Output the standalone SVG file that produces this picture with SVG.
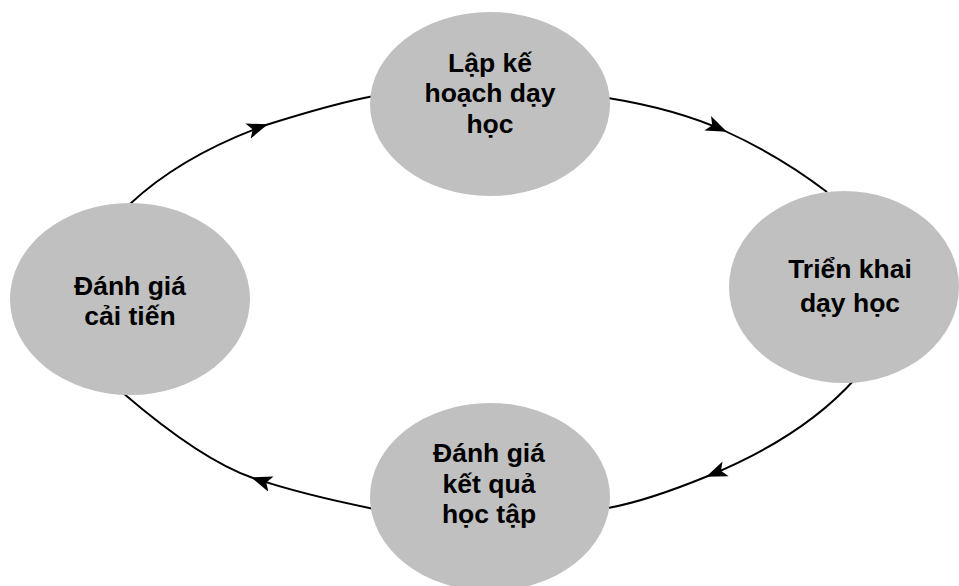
<svg xmlns="http://www.w3.org/2000/svg" width="959" height="586" viewBox="0 0 959 586">
<style>
.conn{fill:none;stroke:#000;stroke-width:1.9;marker-mid:url(#arr)}
.node{fill:#c0c0c0;stroke:none}
.lbl{font-family:"Liberation Sans",Arial,sans-serif;font-weight:bold;font-size:26.5px;fill:#000;text-anchor:middle}
</style>
<defs>
<marker id="arr" markerUnits="userSpaceOnUse" viewBox="0 0 24 18" markerWidth="24" markerHeight="18" refX="19" refY="9" orient="auto">
<path d="M0,1 L21,9 L0,17 L5,9 z" fill="#000"/>
</marker>
</defs>
<rect width="959" height="586" fill="#fff"/>
<g id="connectors">
<path class="conn" d="M130,204 Q181,156 266,125 Q336,103 374,96"/>
<path class="conn" d="M608,98 Q676,109 725,131 Q780,156 827,192"/>
<path class="conn" d="M855,379 Q803,437 708,476 Q647,501 608,508"/>
<path class="conn" d="M374,509 Q300,494 253,478 Q201,460 123,393"/>
</g>
<g id="node-plan">
<ellipse class="node" cx="490" cy="104" rx="120" ry="92"/>
<text class="lbl" x="490" y="72">Lập kế</text>
<text class="lbl" x="490" y="102">hoạch dạy</text>
<text class="lbl" x="490" y="133">học</text>
</g>
<g id="node-implement">
<ellipse class="node" cx="844" cy="287" rx="115" ry="96"/>
<text class="lbl" x="850" y="278">Triển khai</text>
<text class="lbl" x="850" y="312">dạy học</text>
</g>
<g id="node-assess">
<ellipse class="node" cx="490" cy="497" rx="120" ry="94"/>
<text class="lbl" x="489" y="462">Đánh giá</text>
<text class="lbl" x="489" y="493">kết quả</text>
<text class="lbl" x="489" y="523">học tập</text>
</g>
<g id="node-improve">
<ellipse class="node" cx="130" cy="299" rx="120" ry="96"/>
<text class="lbl" x="130" y="295">Đánh giá</text>
<text class="lbl" x="130" y="325">cải tiến</text>
</g>
</svg>
